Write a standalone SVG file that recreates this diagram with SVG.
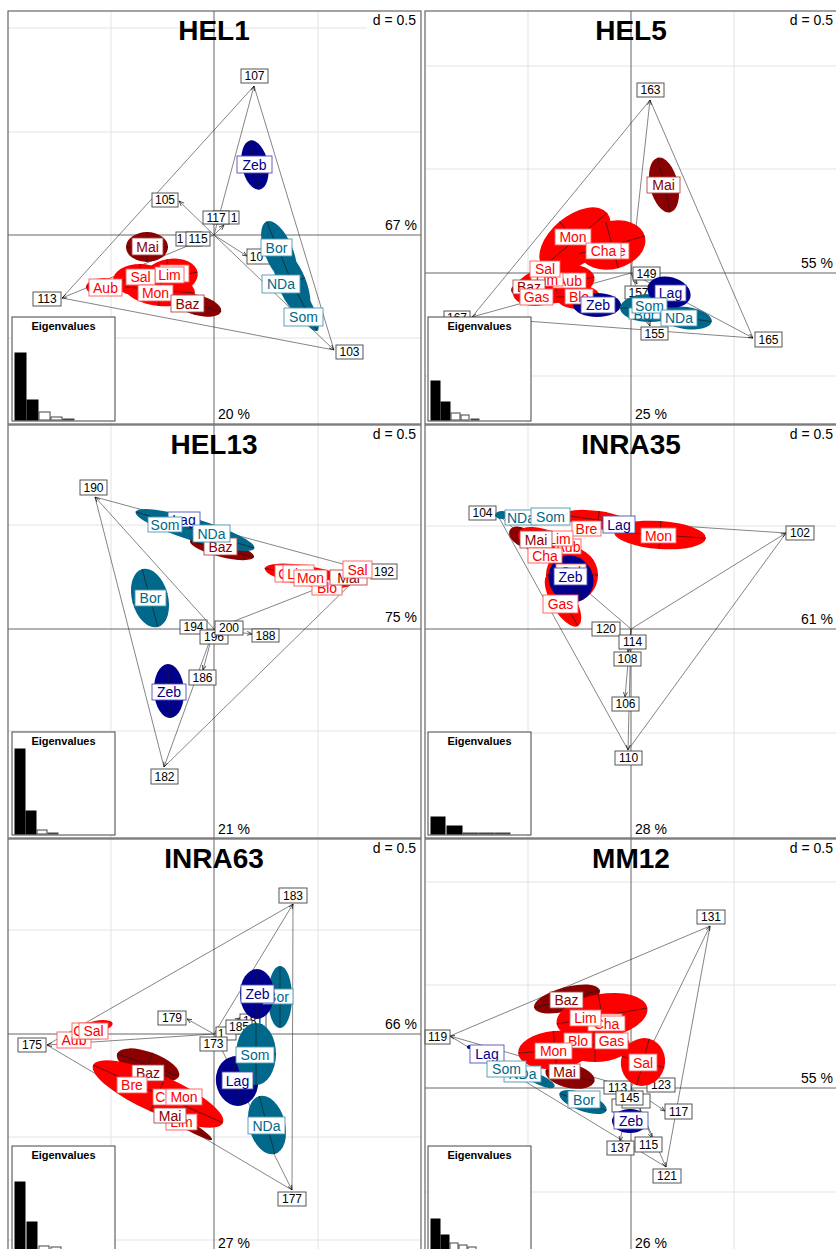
<svg xmlns="http://www.w3.org/2000/svg" width="836" height="1249" viewBox="0 0 836 1249">
<defs>
<marker id="ah" viewBox="0 0 10 10" refX="10" refY="5" markerWidth="5" markerHeight="5" orient="auto" markerUnits="userSpaceOnUse"><path d="M0,1 L10,5 L0,9" fill="none" stroke="#000" stroke-width="1.3"/></marker>
<style>
text{font-family:"Liberation Sans",Arial,sans-serif}
.fr{fill:none;stroke:#666;stroke-width:1.2}
.gr line{stroke:#e3e3e3;stroke-width:1}
.ax line{stroke:#666;stroke-width:1}
.cn line{stroke:#333;stroke-width:0.6}
.cn .a{marker-end:url(#ah)}
.n rect{fill:#fff;stroke:#444;stroke-width:0.9}
.n text{font-size:12px;fill:#000;text-anchor:middle}
.g rect{fill:#fff;stroke-width:0.9}
.g text{font-size:14px;text-anchor:middle}
.r rect{stroke:#ff5a5a}.r text{fill:#f00}
.d rect{stroke:#b04a4a}.d text{fill:#8b0000}
.b rect{stroke:#5050b8}.b text{fill:#00008b}
.t rect{stroke:#4f97b0}.t text{fill:#00688b}
.er{fill:#f00}.ed{fill:#8b0000}.eb{fill:#00008b}.et{fill:#00688b}
.ea{fill:none;stroke:#1a1a1a;stroke-width:0.6}
.ti{font-weight:bold;font-size:28px;text-anchor:middle;fill:#000}
.dd{font-size:14px;text-anchor:end}
.pr{font-size:14px;text-anchor:end}
.pb{font-size:14px}
.ev rect{fill:#fff;stroke:#444;stroke-width:1}
.ev .k{fill:#000;stroke:#000}
.ev text{font-size:11px;font-weight:bold;text-anchor:middle}
.wb{fill:#fff}
</style>
</defs>
<rect width="836" height="1249" fill="#fff"/>

<!-- ============ HEL1 ============ -->
<g id="panel-hel1">
<g class="gr"><line x1="111" y1="11" x2="111" y2="424"/><line x1="318" y1="11" x2="318" y2="424"/><line x1="8" y1="28" x2="421" y2="28"/><line x1="8" y1="132" x2="421" y2="132"/><line x1="8" y1="338" x2="421" y2="338"/></g>
<g class="ax"><line x1="214" y1="11" x2="214" y2="424"/><line x1="8" y1="235" x2="421" y2="235"/></g>
<text class="ti" x="214" y="40">HEL1</text>
<rect class="wb" x="367" y="12" width="53" height="17"/>
<text class="dd" x="416" y="25">d = 0.5</text>
<text class="pr" x="417" y="230">67 %</text>
<text class="pb" x="218" y="419">20 %</text>
<g id="hel1-connectors" class="cn">
<line x1="254" y1="86" x2="62" y2="298"/><line x1="254" y1="86" x2="334" y2="350"/><line x1="62" y1="298" x2="334" y2="350"/>
<line class="a" x1="214" y1="235" x2="254" y2="86"/><line class="a" x1="214" y1="235" x2="179" y2="201"/><line class="a" x1="214" y1="235" x2="62" y2="298"/><line class="a" x1="214" y1="235" x2="334" y2="350"/><line class="a" x1="214" y1="235" x2="247" y2="256"/><line class="a" x1="214" y1="235" x2="224" y2="225"/>
</g>
<g id="hel1-107" class="n"><rect x="241" y="69" width="27" height="14"/><text x="254.5" y="80.3">107</text></g>
<g id="hel1-105" class="n"><rect x="152" y="193" width="26" height="14"/><text x="165" y="204.3">105</text></g>
<g id="hel1-111" class="n"><rect x="213" y="211" width="26" height="13"/><text x="234" y="221.8">1</text></g>
<g id="hel1-117" class="n"><rect x="203" y="211" width="26" height="13"/><text x="216" y="221.8">117</text></g>
<g id="hel1-11x" class="n"><rect x="176" y="232" width="26" height="14"/><text x="180" y="243.3">1</text></g>
<g id="hel1-115" class="n"><rect x="186" y="232" width="24" height="14"/><text x="198" y="243.3">115</text></g>
<g id="hel1-10x" class="n"><rect x="247" y="249" width="26" height="15"/><text x="256.5" y="260.8">10</text></g>
<g id="hel1-113" class="n"><rect x="33" y="292" width="28" height="14"/><text x="47" y="303.3">113</text></g>
<g id="hel1-103" class="n"><rect x="336" y="345" width="27" height="14"/><text x="349.5" y="356.3">103</text></g>
<g id="hel1-ellipses">
<g><ellipse class="ed" cx="147" cy="247" rx="21" ry="15"/><path class="ea" d="M126,247H168M147,232V262"/></g>
<g transform="rotate(15 197 305)"><ellipse class="ed" cx="197" cy="305" rx="25" ry="10"/><path class="ea" d="M172,305H222M197,295V315"/></g>
<g transform="rotate(-10 170 277)"><ellipse class="er" cx="170" cy="277" rx="28" ry="18"/><path class="ea" d="M142,277H198M170,259V295"/></g>
<g><ellipse class="er" cx="140" cy="280" rx="27" ry="16"/><path class="ea" d="M113,280H167M140,264V296"/></g>
<g transform="rotate(5 160 290)"><ellipse class="er" cx="160" cy="290" rx="35" ry="16"/><path class="ea" d="M125,290H195M160,274V306"/></g>
<g><ellipse class="er" cx="104" cy="287" rx="18" ry="9"/><path class="ea" d="M86,287H122"/></g>
<g transform="rotate(-11 255 165)"><ellipse class="eb" cx="255" cy="165" rx="13" ry="25"/><path class="ea" d="M255,140V190M242,165H268"/></g>
<g transform="rotate(-22 279 252)"><ellipse class="et" cx="279" cy="252" rx="14" ry="33"/><path class="ea" d="M279,219V285"/></g>
<g transform="rotate(-22 292 283)"><ellipse class="et" cx="292" cy="283" rx="14" ry="35"/><path class="ea" d="M292,248V318M278,283H306"/></g>
<g transform="rotate(-28 304 306)"><ellipse class="et" cx="304" cy="306" rx="8" ry="28"/><path class="ea" d="M304,278V334"/></g>
</g>
<g id="hel1-Zeb" class="g b"><rect x="237" y="156" width="35" height="17"/><text x="254.5" y="169.5">Zeb</text></g>
<g id="hel1-Mai" class="g d"><rect x="132" y="238" width="31" height="17"/><text x="147.5" y="251.5">Mai</text></g>
<g id="hel1-hid" class="g r"><rect x="160" y="265" width="29" height="17"/></g>
<g id="hel1-Lim" class="g r"><rect x="155" y="267" width="29" height="16"/><text x="169.5" y="280">Lim</text></g>
<g id="hel1-Sal" class="g r"><rect x="126" y="269" width="29" height="16"/><text x="140.5" y="282">Sal</text></g>
<g id="hel1-Aub" class="g r"><rect x="89" y="279" width="33" height="17"/><text x="105.5" y="292.5">Aub</text></g>
<g id="hel1-Mon" class="g r"><rect x="138" y="285" width="35" height="16"/><text x="155.5" y="298">Mon</text></g>
<g id="hel1-Baz" class="g d"><rect x="171" y="295" width="33" height="17"/><text x="187.5" y="308.5">Baz</text></g>
<g id="hel1-Bor" class="g t"><rect x="261" y="239" width="31" height="17"/><text x="276.5" y="252.5">Bor</text></g>
<g id="hel1-NDa" class="g t"><rect x="262" y="275" width="38" height="18"/><text x="281" y="289">NDa</text></g>
<g id="hel1-Som" class="g t"><rect x="284" y="308" width="39" height="18"/><text x="303.5" y="322">Som</text></g>
<g id="hel1-eigen" class="ev"><rect x="12" y="317" width="103" height="104"/><text x="63.5" y="330">Eigenvalues</text>
<rect class="k" x="15" y="353" width="11" height="67"/><rect class="k" x="27" y="400" width="11" height="20"/><rect x="39" y="412" width="11" height="8"/><rect x="51" y="417" width="11" height="3"/><rect x="63" y="419" width="11" height="1"/></g>
<rect class="fr" x="8" y="11" width="413" height="413"/>
</g>

<!-- ============ HEL5 ============ -->
<g id="panel-hel5">
<g class="gr"><line x1="528" y1="11" x2="528" y2="424"/><line x1="734" y1="11" x2="734" y2="424"/><line x1="425" y1="66" x2="836" y2="66"/><line x1="425" y1="169" x2="836" y2="169"/><line x1="425" y1="376" x2="836" y2="376"/></g>
<g class="ax"><line x1="631" y1="11" x2="631" y2="424"/><line x1="425" y1="273" x2="836" y2="273"/></g>
<text class="ti" x="631" y="40">HEL5</text>
<rect class="wb" x="784" y="12" width="52" height="17"/>
<text class="dd" x="833" y="25">d = 0.5</text>
<text class="pr" x="833" y="268">55 %</text>
<text class="pb" x="635" y="419">25 %</text>
<g id="hel5-connectors" class="cn">
<line x1="650" y1="100" x2="472" y2="317"/><line x1="650" y1="100" x2="753" y2="338"/><line x1="472" y1="317" x2="753" y2="338"/>
<line class="a" x1="631" y1="273" x2="650" y2="100"/><line class="a" x1="631" y1="273" x2="472" y2="317"/><line class="a" x1="631" y1="273" x2="753" y2="338"/><line class="a" x1="631" y1="273" x2="637" y2="284"/><line class="a" x1="631" y1="273" x2="650" y2="326"/>
</g>
<g id="hel5-163" class="n"><rect x="637" y="83" width="27" height="14"/><text x="650.5" y="94.3">163</text></g>
<g id="hel5-167" class="n"><rect x="444" y="311" width="26" height="12"/><text x="457" y="322">167</text></g>
<g id="hel5-165" class="n"><rect x="755" y="332" width="27" height="15"/><text x="768.5" y="343.8">165</text></g>
<g id="hel5-149" class="n"><rect x="633" y="267" width="27" height="13"/><text x="646.5" y="277.8">149</text></g>
<g id="hel5-157" class="n"><rect x="625" y="286" width="27" height="13"/><text x="638.5" y="296.8">157</text></g>
<g id="hel5-155" class="n"><rect x="641" y="327" width="27" height="13"/><text x="654.5" y="337.8">155</text></g>
<g id="hel5-ellipses">
<g transform="rotate(-13 664 185)"><ellipse class="ed" cx="664" cy="185" rx="14" ry="28"/><path class="ea" d="M664,157V213M650,185H678"/></g>
<g><ellipse class="ed" cx="520" cy="290" rx="9" ry="6"/></g>
<g transform="rotate(-40 575 240)"><ellipse class="er" cx="575" cy="240" rx="42" ry="24"/><path class="ea" d="M533,240H617M575,216V264"/></g>
<g transform="rotate(-15 612 245)"><ellipse class="er" cx="612" cy="245" rx="34" ry="24"/><path class="ea" d="M578,245H646M612,221V269"/></g>
<g transform="rotate(-10 555 284)"><ellipse class="er" cx="555" cy="284" rx="40" ry="19"/><path class="ea" d="M515,284H595M555,265V303"/></g>
<g><ellipse class="er" cx="578" cy="297" rx="22" ry="12"/><path class="ea" d="M556,297H600"/></g>
<g><ellipse class="er" cx="535" cy="294" rx="22" ry="12"/></g>
<g><ellipse class="eb" cx="597" cy="305" rx="24" ry="12"/><path class="ea" d="M573,305H621M597,293V317"/></g>
<g><ellipse class="et" cx="650" cy="308" rx="30" ry="14"/><path class="ea" d="M620,308H680M650,294V322"/></g>
<g transform="rotate(8 686 318)"><ellipse class="et" cx="686" cy="318" rx="26" ry="11"/><path class="ea" d="M660,318H712"/></g>
<g transform="rotate(15 669 292)"><ellipse class="eb" cx="669" cy="292" rx="22" ry="15"/><path class="ea" d="M647,292H691"/></g>
</g>
<g id="hel5-Mai" class="g d"><rect x="647" y="177" width="33" height="16"/><text x="663.5" y="190">Mai</text></g>
<g id="hel5-Mon" class="g r"><rect x="555" y="229" width="36" height="16"/><text x="573" y="242">Mon</text></g>
<g id="hel5-Bre" class="g r"><rect x="600" y="243" width="29" height="16"/><text x="622" y="256">e</text></g>
<g id="hel5-Cha" class="g r"><rect x="586" y="243" width="35" height="16"/><text x="603.5" y="256">Cha</text></g>
<g id="hel5-Aub" class="g r"><rect x="553" y="273" width="33" height="15"/><text x="569.5" y="285.5">Aub</text></g>
<g id="hel5-Lim" class="g r"><rect x="531" y="273" width="32" height="13"/><text x="547" y="285">Lim</text></g>
<g id="hel5-Sal" class="g r"><rect x="530" y="261" width="30" height="16"/><text x="545" y="274">Sal</text></g>
<g id="hel5-Baz" class="g d"><rect x="513" y="280" width="32" height="14"/><text x="529" y="292">Baz</text></g>
<g id="hel5-Gas" class="g r"><rect x="520" y="289" width="33" height="16"/><text x="536.5" y="302">Gas</text></g>
<g id="hel5-Blo" class="g r"><rect x="565" y="289" width="28" height="15"/><text x="579" y="301.5">Blo</text></g>
<g id="hel5-Zeb" class="g b"><rect x="581" y="297" width="34" height="16"/><text x="598" y="310">Zeb</text></g>
<g id="hel5-Lag" class="g b"><rect x="655" y="285" width="31" height="16"/><text x="670.5" y="298">Lag</text></g>
<g id="hel5-Bor" class="g t"><rect x="629" y="308" width="31" height="11"/><text x="644.5" y="320">Bor</text></g>
<g id="hel5-Som" class="g t"><rect x="632" y="298" width="35" height="15"/><text x="649.5" y="310.5">Som</text></g>
<g id="hel5-NDa" class="g t"><rect x="661" y="310" width="36" height="16"/><text x="679" y="323">NDa</text></g>
<g id="hel5-eigen" class="ev"><rect x="428" y="317" width="103" height="104"/><text x="479.5" y="330">Eigenvalues</text>
<rect class="k" x="431" y="381" width="9" height="39"/><rect class="k" x="441" y="402" width="9" height="18"/><rect x="451" y="413" width="9" height="7"/><rect x="461" y="415" width="8" height="5"/><rect x="471" y="419" width="8" height="1"/></g>
<rect class="fr" x="425" y="11" width="420" height="413"/>
</g>

<!-- ============ HEL13 ============ -->
<g id="panel-hel13">
<g class="gr"><line x1="111" y1="425" x2="111" y2="838"/><line x1="318" y1="425" x2="318" y2="838"/><line x1="8" y1="525" x2="421" y2="525"/><line x1="8" y1="731" x2="421" y2="731"/></g>
<g class="ax"><line x1="214" y1="425" x2="214" y2="838"/><line x1="8" y1="629" x2="421" y2="629"/></g>
<text class="ti" x="214" y="454">HEL13</text>
<rect class="wb" x="367" y="426" width="53" height="17"/>
<text class="dd" x="416" y="439">d = 0.5</text>
<text class="pr" x="417" y="622">75 %</text>
<text class="pb" x="218" y="834">21 %</text>
<g id="hel13-connectors" class="cn">
<line x1="95" y1="497" x2="164" y2="767"/><line x1="95" y1="497" x2="365" y2="570"/><line x1="365" y1="570" x2="164" y2="767"/>
<line class="a" x1="214" y1="629" x2="95" y2="497"/><line class="a" x1="214" y1="629" x2="365" y2="570"/><line class="a" x1="214" y1="629" x2="164" y2="767"/><line class="a" x1="214" y1="629" x2="203" y2="670"/><line class="a" x1="214" y1="629" x2="252" y2="634"/>
</g>
<g id="hel13-190" class="n"><rect x="80" y="480" width="27" height="15"/><text x="93.5" y="491.8">190</text></g>
<g id="hel13-192" class="n"><rect x="371" y="564" width="26" height="15"/><text x="384" y="575.8">192</text></g>
<g id="hel13-194" class="n"><rect x="180" y="620" width="27" height="14"/><text x="193.5" y="631.3">194</text></g>
<g id="hel13-196" class="n"><rect x="200" y="630" width="28" height="14"/><text x="214" y="641.3">196</text></g>
<g id="hel13-200" class="n"><rect x="215" y="621" width="28" height="14"/><text x="229" y="632.3">200</text></g>
<g id="hel13-188" class="n"><rect x="252" y="629" width="27" height="13"/><text x="265.5" y="639.8">188</text></g>
<g id="hel13-186" class="n"><rect x="189" y="670" width="27" height="15"/><text x="202.5" y="681.8">186</text></g>
<g id="hel13-182" class="n"><rect x="151" y="769" width="27" height="15"/><text x="164.5" y="780.8">182</text></g>
<g id="hel13-ellipses">
<g transform="rotate(14 222 549)"><ellipse class="ed" cx="222" cy="549" rx="33" ry="8"/><path class="ea" d="M189,549H255"/></g>
<g transform="rotate(17 195 530)"><ellipse class="et" cx="195" cy="530" rx="62" ry="11"/><path class="ea" d="M133,530H257M195,519V541"/></g>
<g transform="rotate(10 308 576)"><ellipse class="er" cx="308" cy="576" rx="44" ry="10"/><path class="ea" d="M264,576H352"/></g>
<g transform="rotate(-15 150 598)"><ellipse class="et" cx="150" cy="598" rx="18" ry="30"/><path class="ea" d="M150,568V628M132,598H168"/></g>
<g transform="rotate(-3 169 691)"><ellipse class="eb" cx="169" cy="691" rx="15" ry="27"/><path class="ea" d="M169,664V718M154,691H184"/></g>
</g>
<g id="hel13-Lag" class="g b"><rect x="168" y="512" width="32" height="15"/><text x="184" y="524.5">Lag</text></g>
<g id="hel13-Som" class="g t"><rect x="148" y="517" width="34" height="15"/><text x="165" y="529.5">Som</text></g>
<g id="hel13-Baz" class="g d"><rect x="204" y="538" width="33" height="17"/><text x="220.5" y="551.5">Baz</text></g>
<g id="hel13-NDa" class="g t"><rect x="193" y="525" width="37" height="17"/><text x="211.5" y="538.5">NDa</text></g>
<g id="hel13-Cha" class="g r"><rect x="275" y="565" width="32" height="17"/><text x="291" y="578.5">Cha</text></g>
<g id="hel13-Lim" class="g r"><rect x="283" y="565" width="31" height="17"/><text x="298.5" y="578.5">Lim</text></g>
<g id="hel13-Blo" class="g r"><rect x="312" y="580" width="30" height="15"/><text x="327" y="592.5">Blo</text></g>
<g id="hel13-Mai" class="g d"><rect x="330" y="570" width="37" height="15"/><text x="348.5" y="582.5">Mai</text></g>
<g id="hel13-Mon" class="g r"><rect x="294" y="570" width="33" height="16"/><text x="310.5" y="583">Mon</text></g>
<g id="hel13-Sal" class="g r"><rect x="343" y="561" width="29" height="17"/><text x="357.5" y="574.5">Sal</text></g>
<g id="hel13-Bor" class="g t"><rect x="135" y="590" width="31" height="16"/><text x="150.5" y="603">Bor</text></g>
<g id="hel13-Zeb" class="g b"><rect x="152" y="684" width="34" height="16"/><text x="169" y="697">Zeb</text></g>
<g id="hel13-eigen" class="ev"><rect x="12" y="732" width="103" height="103"/><text x="63.5" y="745">Eigenvalues</text>
<rect class="k" x="15" y="749" width="10" height="85"/><rect class="k" x="26" y="811" width="10" height="23"/><rect x="37" y="830" width="10" height="4"/><rect x="48" y="833" width="10" height="1"/></g>
<rect class="fr" x="8" y="425" width="413" height="413"/>
</g>

<!-- ============ INRA35 ============ -->
<g id="panel-inra35">
<g class="gr"><line x1="528" y1="425" x2="528" y2="838"/><line x1="734" y1="425" x2="734" y2="838"/><line x1="425" y1="526" x2="836" y2="526"/><line x1="425" y1="733" x2="836" y2="733"/></g>
<g class="ax"><line x1="631" y1="425" x2="631" y2="838"/><line x1="425" y1="629" x2="836" y2="629"/></g>
<text class="ti" x="631" y="454">INRA35</text>
<rect class="wb" x="784" y="426" width="52" height="17"/>
<text class="dd" x="833" y="439">d = 0.5</text>
<text class="pr" x="833" y="624">61 %</text>
<text class="pb" x="635" y="834">28 %</text>
<g id="inra35-connectors" class="cn">
<line x1="497" y1="514" x2="628" y2="750"/><line x1="497" y1="514" x2="786" y2="533"/><line x1="786" y1="533" x2="628" y2="750"/>
<line class="a" x1="631" y1="629" x2="497" y2="514"/><line class="a" x1="631" y1="629" x2="786" y2="533"/><line class="a" x1="631" y1="629" x2="628" y2="750"/><line class="a" x1="631" y1="629" x2="625" y2="697"/><line class="a" x1="631" y1="629" x2="628" y2="652"/>
</g>
<g id="inra35-104" class="n"><rect x="469" y="506" width="27" height="14"/><text x="482.5" y="517.3">104</text></g>
<g id="inra35-102" class="n"><rect x="786" y="526" width="28" height="14"/><text x="800" y="537.3">102</text></g>
<g id="inra35-120" class="n"><rect x="592" y="622" width="28" height="14"/><text x="606" y="633.3">120</text></g>
<g id="inra35-114" class="n"><rect x="619" y="635" width="27" height="14"/><text x="632.5" y="646.3">114</text></g>
<g id="inra35-108" class="n"><rect x="614" y="652" width="27" height="14"/><text x="627.5" y="663.3">108</text></g>
<g id="inra35-106" class="n"><rect x="612" y="697" width="27" height="14"/><text x="625.5" y="708.3">106</text></g>
<g id="inra35-110" class="n"><rect x="615" y="751" width="27" height="14"/><text x="628.5" y="762.3">110</text></g>
<g id="inra35-ellipses">
<g><ellipse class="et" cx="502" cy="515" rx="7" ry="4"/></g>
<g transform="rotate(30 522 537)"><ellipse class="ed" cx="522" cy="537" rx="14" ry="9"/></g>
<g transform="rotate(8 598 520)"><ellipse class="er" cx="598" cy="520" rx="35" ry="9"/><path class="ea" d="M563,520H633M598,511V529"/></g>
<g transform="rotate(4 660 535)"><ellipse class="er" cx="660" cy="535" rx="46" ry="14"/><path class="ea" d="M614,535H706M660,521V549"/></g>
<g transform="rotate(25 553 548)"><ellipse class="er" cx="553" cy="548" rx="38" ry="15"/><path class="ea" d="M515,548H591M553,533V563"/></g>
<g><ellipse class="er" cx="572" cy="575" rx="26" ry="27"/><path class="ea" d="M546,575H598"/></g>
<g transform="rotate(-30 563 600)"><ellipse class="er" cx="563" cy="600" rx="12" ry="30"/><path class="ea" d="M563,570V630"/></g>
<g transform="rotate(-30 571 579)"><ellipse class="eb" cx="571" cy="579" rx="22" ry="24"/><path class="ea" d="M571,555V603"/></g>
</g>
<g id="inra35-NDa" class="g t"><rect x="505" y="510" width="32" height="15"/><text x="521" y="522.5">NDa</text></g>
<g id="inra35-Som" class="g t"><rect x="531" y="508" width="39" height="17"/><text x="550.5" y="521.5">Som</text></g>
<g id="inra35-Bre" class="g r"><rect x="572" y="521" width="29" height="15"/><text x="586.5" y="533.5">Bre</text></g>
<g id="inra35-Lag" class="g b"><rect x="603" y="516" width="32" height="17"/><text x="619" y="529.5">Lag</text></g>
<g id="inra35-Mon" class="g r"><rect x="641" y="528" width="35" height="15"/><text x="658.5" y="540.5">Mon</text></g>
<g id="inra35-Aub" class="g r"><rect x="555" y="539" width="26" height="15"/><text x="568" y="551.5">Aub</text></g>
<g id="inra35-Lim" class="g r"><rect x="546" y="531" width="27" height="15"/><text x="559.5" y="543.5">Lim</text></g>
<g id="inra35-Mai" class="g d"><rect x="520" y="531" width="32" height="17"/><text x="536" y="544.5">Mai</text></g>
<g id="inra35-Cha" class="g r"><rect x="528" y="548" width="34" height="15"/><text x="545" y="560.5">Cha</text></g>
<g id="inra35-Sal" class="g r"><rect x="556" y="564" width="30" height="15"/><text x="571" y="576.5">Sal</text></g>
<g id="inra35-Zeb" class="g b"><rect x="554" y="568" width="33" height="17"/><text x="570.5" y="581.5">Zeb</text></g>
<g id="inra35-Gas" class="g r"><rect x="543" y="595" width="35" height="18"/><text x="560.5" y="609">Gas</text></g>
<g id="inra35-eigen" class="ev"><rect x="428" y="732" width="103" height="103"/><text x="479.5" y="745">Eigenvalues</text>
<rect class="k" x="431" y="817" width="14" height="17"/><rect class="k" x="447" y="826" width="15" height="8"/><rect x="463" y="833" width="15" height="1"/><rect x="479" y="833" width="15" height="1"/><rect x="495" y="833" width="15" height="1"/></g>
<rect class="fr" x="425" y="425" width="420" height="413"/>
</g>

<!-- ============ INRA63 ============ -->
<g id="panel-inra63">
<g class="gr"><line x1="111" y1="839" x2="111" y2="1249"/><line x1="318" y1="839" x2="318" y2="1249"/><line x1="8" y1="930" x2="421" y2="930"/><line x1="8" y1="1137" x2="421" y2="1137"/><line x1="8" y1="1240" x2="421" y2="1240"/></g>
<g class="ax"><line x1="214" y1="839" x2="214" y2="1249"/><line x1="8" y1="1034" x2="421" y2="1034"/></g>
<text class="ti" x="214" y="868">INRA63</text>
<rect class="wb" x="367" y="840" width="53" height="17"/>
<text class="dd" x="416" y="853">d = 0.5</text>
<text class="pr" x="417" y="1029">66 %</text>
<text class="pb" x="218" y="1248">27 %</text>
<g id="inra63-connectors" class="cn">
<line x1="293" y1="904" x2="47" y2="1045"/><line x1="293" y1="904" x2="292" y2="1190"/><line x1="47" y1="1045" x2="292" y2="1190"/>
<line class="a" x1="214" y1="1034" x2="293" y2="904"/><line class="a" x1="214" y1="1034" x2="47" y2="1045"/><line class="a" x1="214" y1="1034" x2="187" y2="1019"/><line class="a" x1="214" y1="1034" x2="292" y2="1190"/><line class="a" x1="214" y1="1034" x2="240" y2="1018"/>
</g>
<g id="inra63-183" class="n"><rect x="279" y="888" width="28" height="15"/><text x="293" y="899.8">183</text></g>
<g id="inra63-179" class="n"><rect x="158" y="1011" width="28" height="14"/><text x="172" y="1022.3">179</text></g>
<g id="inra63-175" class="n"><rect x="18" y="1038" width="28" height="14"/><text x="32" y="1049.3">175</text></g>
<g id="inra63-181" class="n"><rect x="240" y="1014" width="26" height="14"/><text x="253" y="1025.3">181</text></g>
<g id="inra63-1xx" class="n"><rect x="216" y="1027" width="20" height="13"/><text x="221" y="1037.5">1</text></g>
<g id="inra63-185" class="n"><rect x="226" y="1020" width="26" height="14"/><text x="239" y="1031.3">185</text></g>
<g id="inra63-173" class="n"><rect x="200" y="1037" width="27" height="14"/><text x="213.5" y="1048.3">173</text></g>
<g id="inra63-177" class="n"><rect x="278" y="1192" width="28" height="14"/><text x="292" y="1203.3">177</text></g>
<g id="inra63-ellipses">
<g transform="rotate(-12 95 1027)"><ellipse class="er" cx="95" cy="1027" rx="18" ry="6"/></g>
<g transform="rotate(20 148 1065)"><ellipse class="ed" cx="148" cy="1065" rx="33" ry="13"/><path class="ea" d="M115,1065H181M148,1052V1078"/></g>
<g transform="rotate(31 176 1118)"><ellipse class="ed" cx="176" cy="1118" rx="42" ry="5"/><path class="ea" d="M134,1118H218"/></g>
<g transform="rotate(24 158 1094)"><ellipse class="er" cx="158" cy="1094" rx="71" ry="19"/><path class="ea" d="M87,1094H229M158,1075V1113"/></g>
<g><ellipse class="et" cx="280" cy="997" rx="12" ry="31"/><path class="ea" d="M280,966V1028"/></g>
<g><ellipse class="eb" cx="257" cy="994" rx="17" ry="25"/><path class="ea" d="M257,969V1019M240,994H274"/></g>
<g transform="rotate(-10 237 1081)"><ellipse class="eb" cx="237" cy="1081" rx="21" ry="25"/><path class="ea" d="M237,1056V1106"/></g>
<g><ellipse class="et" cx="256" cy="1054" rx="20" ry="31"/><path class="ea" d="M256,1023V1085M236,1054H276"/></g>
<g transform="rotate(-15 267 1125)"><ellipse class="et" cx="267" cy="1125" rx="18" ry="30"/><path class="ea" d="M267,1095V1155M249,1125H285"/></g>
</g>
<g id="inra63-Aub" class="g r"><rect x="57" y="1032" width="34" height="16"/><text x="74" y="1045">Aub</text></g>
<g id="inra63-Cha" class="g r"><rect x="72" y="1023" width="28" height="16"/><text x="86" y="1036">Cha</text></g>
<g id="inra63-Sal" class="g r"><rect x="79" y="1023" width="29" height="16"/><text x="93.5" y="1036">Sal</text></g>
<g id="inra63-Baz" class="g d"><rect x="132" y="1065" width="32" height="16"/><text x="148" y="1078">Baz</text></g>
<g id="inra63-Bre" class="g r"><rect x="117" y="1077" width="30" height="16"/><text x="132" y="1090">Bre</text></g>
<g id="inra63-Cx" class="g r"><rect x="153" y="1089" width="30" height="16"/><text x="168" y="1102">Cha</text></g>
<g id="inra63-Mon" class="g r"><rect x="166" y="1089" width="36" height="16"/><text x="184" y="1102">Mon</text></g>
<g id="inra63-Lim" class="g r"><rect x="166" y="1114" width="31" height="16"/><text x="181.5" y="1127">Lim</text></g>
<g id="inra63-Mai" class="g d"><rect x="154" y="1108" width="32" height="15"/><text x="170" y="1120.5">Mai</text></g>
<g id="inra63-Bor" class="g t"><rect x="263" y="989" width="30" height="15"/><text x="278" y="1001.5">Bor</text></g>
<g id="inra63-Zeb" class="g b"><rect x="241" y="985" width="33" height="18"/><text x="257.5" y="999">Zeb</text></g>
<g id="inra63-Som" class="g t"><rect x="236" y="1047" width="38" height="16"/><text x="255" y="1060">Som</text></g>
<g id="inra63-Lag" class="g b"><rect x="222" y="1072" width="31" height="17"/><text x="237.5" y="1085.5">Lag</text></g>
<g id="inra63-NDa" class="g t"><rect x="248" y="1117" width="37" height="17"/><text x="266.5" y="1130.5">NDa</text></g>
<g id="inra63-eigen" class="ev"><rect x="12" y="1146" width="103" height="110"/><text x="63.5" y="1159">Eigenvalues</text>
<rect class="k" x="15" y="1182" width="10" height="70"/><rect class="k" x="27" y="1222" width="10" height="30"/><rect x="39" y="1246" width="10" height="6"/><rect x="51" y="1247" width="10" height="5"/></g>
<rect class="fr" x="8" y="839" width="413" height="420"/>
</g>

<!-- ============ MM12 ============ -->
<g id="panel-mm12">
<g class="gr"><line x1="528" y1="839" x2="528" y2="1249"/><line x1="734" y1="839" x2="734" y2="1249"/><line x1="425" y1="882" x2="836" y2="882"/><line x1="425" y1="985" x2="836" y2="985"/><line x1="425" y1="1192" x2="836" y2="1192"/></g>
<g class="ax"><line x1="631" y1="839" x2="631" y2="1249"/><line x1="425" y1="1088" x2="836" y2="1088"/></g>
<text class="ti" x="631" y="868">MM12</text>
<rect class="wb" x="784" y="840" width="52" height="17"/>
<text class="dd" x="833" y="853">d = 0.5</text>
<text class="pr" x="833" y="1083">55 %</text>
<text class="pb" x="635" y="1248">26 %</text>
<g id="mm12-connectors" class="cn">
<line x1="710" y1="926" x2="450" y2="1036"/><line x1="710" y1="926" x2="666" y2="1167"/><line x1="450" y1="1036" x2="666" y2="1167"/>
<line class="a" x1="631" y1="1088" x2="710" y2="926"/><line class="a" x1="631" y1="1088" x2="450" y2="1036"/><line class="a" x1="631" y1="1088" x2="666" y2="1167"/><line class="a" x1="631" y1="1088" x2="665" y2="1111"/><line class="a" x1="631" y1="1088" x2="652" y2="1138"/><line class="a" x1="631" y1="1088" x2="620" y2="1141"/>
</g>
<g id="mm12-131" class="n"><rect x="697" y="910" width="28" height="14"/><text x="711" y="921.3">131</text></g>
<g id="mm12-119" class="n"><rect x="425" y="1030" width="25" height="14"/><text x="437.5" y="1041.3">119</text></g>
<g id="mm12-121" class="n"><rect x="653" y="1169" width="28" height="14"/><text x="667" y="1180.3">121</text></g>
<g id="mm12-123" class="n"><rect x="647" y="1078" width="28" height="14"/><text x="661" y="1089.3">123</text></g>
<g id="mm12-113" class="n"><rect x="604" y="1081" width="27" height="13"/><text x="617.5" y="1091.8">113</text></g>
<g id="mm12-129" class="n"><rect x="612" y="1099" width="28" height="13"/><rect x="622" y="1094" width="28" height="14"/></g>
<g id="mm12-145" class="n"><rect x="616" y="1091" width="27" height="14"/><text x="629.5" y="1102.3">145</text></g>
<g id="mm12-117" class="n"><rect x="665" y="1104" width="27" height="15"/><text x="678.5" y="1115.8">117</text></g>
<g id="mm12-115" class="n"><rect x="635" y="1137" width="27" height="15"/><text x="648.5" y="1148.8">115</text></g>
<g id="mm12-137" class="n"><rect x="607" y="1141" width="27" height="14"/><text x="620.5" y="1152.3">137</text></g>
<g id="mm12-ellipses">
<g transform="rotate(25 540 1080)"><ellipse class="et" cx="540" cy="1080" rx="16" ry="5"/></g>
<g transform="rotate(20 583 1102)"><ellipse class="et" cx="583" cy="1102" rx="25" ry="9"/><path class="ea" d="M558,1102H608"/></g>
<g><ellipse class="eb" cx="470" cy="1047" rx="3" ry="2"/></g>
<g transform="rotate(-15 567 999)"><ellipse class="ed" cx="567" cy="999" rx="34" ry="12"/><path class="ea" d="M533,999H601M567,987V1011"/></g>
<g transform="rotate(12 570 1076)"><ellipse class="ed" cx="570" cy="1076" rx="25" ry="12"/><path class="ea" d="M545,1076H595"/></g>
<g transform="rotate(-10 602 1016)"><ellipse class="er" cx="602" cy="1016" rx="46" ry="22"/><path class="ea" d="M556,1016H648M602,994V1038"/></g>
<g><ellipse class="er" cx="595" cy="1045" rx="35" ry="17"/><path class="ea" d="M560,1045H630M595,1028V1062"/></g>
<g transform="rotate(-5 555 1050)"><ellipse class="er" cx="555" cy="1050" rx="37" ry="19"/><path class="ea" d="M518,1050H592M555,1031V1069"/></g>
<g transform="rotate(15 643 1062)"><ellipse class="er" cx="643" cy="1062" rx="22" ry="24"/><path class="ea" d="M643,1038V1086M621,1062H665"/></g>
<g><ellipse class="eb" cx="630" cy="1121" rx="18" ry="12"/><path class="ea" d="M612,1121H648"/></g>
</g>
<g id="mm12-Baz" class="g d"><rect x="550" y="992" width="33" height="16"/><text x="566.5" y="1005">Baz</text></g>
<g id="mm12-hid" class="g r"><rect x="601" y="1014" width="21" height="15"/></g>
<g id="mm12-Cha" class="g r"><rect x="588" y="1016" width="37" height="15"/><text x="606.5" y="1028.5">Cha</text></g>
<g id="mm12-Lim" class="g r"><rect x="570" y="1010" width="31" height="16"/><text x="585.5" y="1023">Lim</text></g>
<g id="mm12-Blo" class="g r"><rect x="564" y="1033" width="28" height="15"/><text x="578" y="1045.5">Blo</text></g>
<g id="mm12-Gas" class="g r"><rect x="595" y="1033" width="33" height="16"/><text x="611.5" y="1046">Gas</text></g>
<g id="mm12-Mon" class="g r"><rect x="535" y="1043" width="37" height="16"/><text x="553.5" y="1056">Mon</text></g>
<g id="mm12-Mai" class="g d"><rect x="549" y="1064" width="31" height="15"/><text x="564.5" y="1076.5">Mai</text></g>
<g id="mm12-Sal" class="g r"><rect x="629" y="1054" width="28" height="17"/><text x="643" y="1067.5">Sal</text></g>
<g id="mm12-Lag" class="g b"><rect x="470" y="1045" width="34" height="18"/><text x="487" y="1059">Lag</text></g>
<g id="mm12-NDa" class="g t"><rect x="504" y="1066" width="37" height="16"/><text x="522.5" y="1079">NDa</text></g>
<g id="mm12-Som" class="g t"><rect x="487" y="1061" width="39" height="16"/><text x="506.5" y="1074">Som</text></g>
<g id="mm12-Bor" class="g t"><rect x="568" y="1091" width="32" height="17"/><text x="584" y="1104.5">Bor</text></g>
<g id="mm12-Zeb" class="g b"><rect x="614" y="1112" width="34" height="17"/><text x="631" y="1125.5">Zeb</text></g>
<g id="mm12-eigen" class="ev"><rect x="428" y="1146" width="103" height="110"/><text x="479.5" y="1159">Eigenvalues</text>
<rect class="k" x="431" y="1219" width="9" height="33"/><rect class="k" x="441" y="1235" width="8" height="17"/><rect x="450" y="1243" width="8" height="9"/><rect x="459" y="1245" width="8" height="7"/><rect x="468" y="1247" width="8" height="5"/></g>
<rect class="fr" x="425" y="839" width="420" height="420"/>
</g>
</svg>
